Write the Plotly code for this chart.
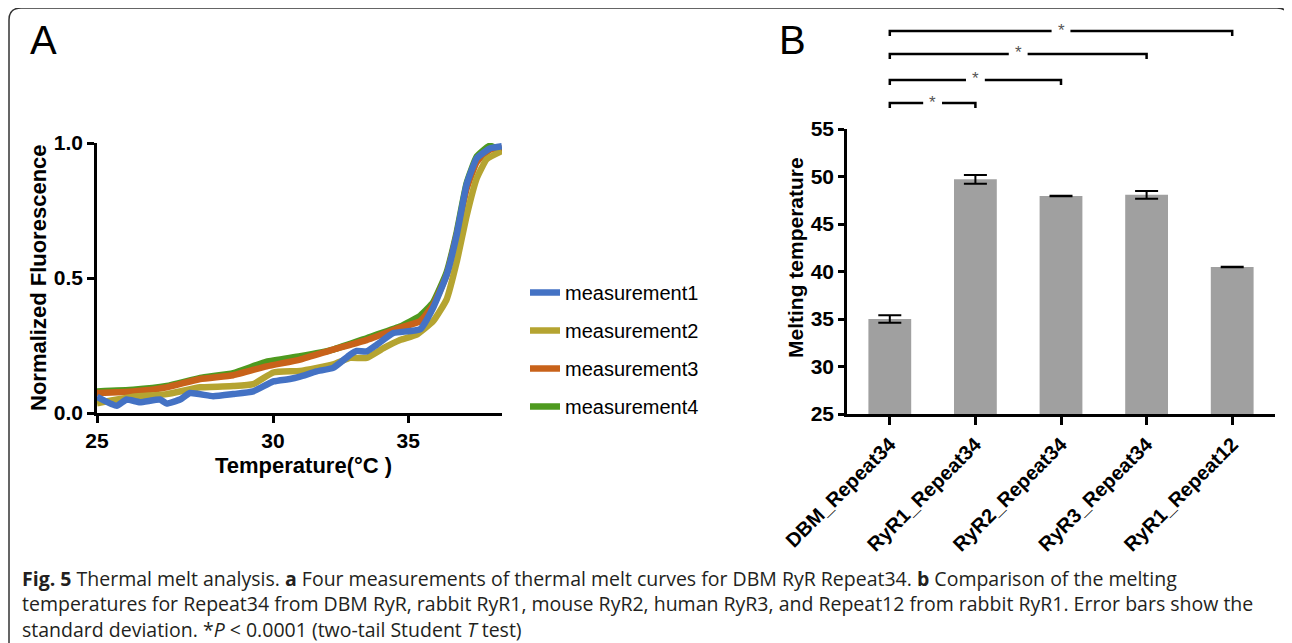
import plotly.graph_objects as go

# The page places the plot 8 px from the top-left corner (body margin), so the
# figure is 8 px smaller and every screen position is mapped with that offset.
SCREEN_W, SCREEN_H = 1292, 643
OFF = 8
W, H = SCREEN_W - OFF, SCREEN_H - OFF

# ---------------- Panel A data ----------------
temp_m1 = [25.0, 25.56, 25.84, 26.22, 26.79, 26.98, 27.36, 27.64, 28.30, 28.87, 29.44, 30.01, 30.48, 30.77,
           31.24, 31.71, 32.19, 32.38, 32.66, 32.95, 33.42, 34.18, 34.55, 34.93, 35.22, 35.50, 35.79, 36.16, 36.50]
fluor_m1 = [0.06, 0.027, 0.05, 0.04, 0.05, 0.035, 0.05, 0.074, 0.062, 0.07, 0.08, 0.117, 0.126, 0.135,
            0.154, 0.167, 0.216, 0.23, 0.228, 0.253, 0.296, 0.31, 0.39, 0.51, 0.66, 0.846, 0.944, 0.98, 0.988]

temp_m2 = [25.0, 26.03, 26.98, 27.93, 28.87, 29.44, 30.01, 30.77, 31.71, 32.19, 32.66, 33.14, 33.61, 34.08,
           34.55, 34.93, 35.22, 35.50, 35.79, 36.07, 36.50]
fluor_m2 = [0.036, 0.06, 0.07, 0.095, 0.10, 0.107, 0.15, 0.156, 0.18, 0.204, 0.204, 0.24, 0.27, 0.29,
            0.34, 0.42, 0.56, 0.73, 0.87, 0.94, 0.97]

temp_m3 = [25.0, 26.03, 26.98, 27.93, 28.87, 29.82, 30.77, 31.71, 32.66, 33.61, 34.18, 34.55, 34.93, 35.22,
           35.50, 35.79, 36.16, 36.50]
fluor_m3 = [0.074, 0.08, 0.095, 0.126, 0.14, 0.173, 0.198, 0.235, 0.27, 0.316, 0.34, 0.40, 0.51, 0.66,
            0.83, 0.93, 0.975, 0.98]

temp_m4 = [25.0, 26.03, 26.98, 27.93, 28.87, 29.82, 30.77, 31.71, 32.66, 33.61, 34.18, 34.55, 34.93, 35.22,
           35.50, 35.79, 36.16, 36.50]
fluor_m4 = [0.08, 0.086, 0.10, 0.13, 0.148, 0.19, 0.21, 0.235, 0.277, 0.32, 0.36, 0.41, 0.52, 0.67,
            0.85, 0.95, 0.99, 0.97]

series_names = ["measurement1", "measurement2", "measurement3", "measurement4"]
series_colors = ["#4472c4", "#b5a431", "#c8621a", "#4e9a1f"]

a_tick_vals = [25, 30, 33.84]
a_tick_text = ["25", "30", "35"]

# ---------------- Panel B data ----------------
constructs = ["DBM_Repeat34", "RyR1_Repeat34", "RyR2_Repeat34", "RyR3_Repeat34", "RyR1_Repeat12"]
melt_mean = [35.0, 49.7, 47.95, 48.07, 40.47]
melt_sd = [0.39, 0.47, 0.03, 0.4, 0.03]
comparisons = [(0, 1), (0, 2), (0, 3), (0, 4)]

caption_lines = [
    "<b>Fig. 5</b> Thermal melt analysis. <b>a</b> Four measurements of thermal melt curves for DBM RyR Repeat34. <b>b</b> Comparison of the melting",
    "temperatures for Repeat34 from DBM RyR, rabbit RyR1, mouse RyR2, human RyR3, and Repeat12 from rabbit RyR1. Error bars show the",
    "standard deviation. *<i>P</i> &lt; 0.0001 (two-tail Student <i>T</i> test)",
]


def px(x):
    return (x - OFF) / W


def py(y):
    return 1 - (y - OFF) / H


FONT = "Liberation Sans, Arial"

fig = go.Figure()
series = [(temp_m1, fluor_m1), (temp_m2, fluor_m2), (temp_m3, fluor_m3), (temp_m4, fluor_m4)]
for i in [3, 2, 1, 0]:
    t, f = series[i]
    fig.add_trace(go.Scatter(
        x=t, y=f, mode="lines", name=series_names[i],
        line=dict(color=series_colors[i], width=6.5, shape="spline", smoothing=0.4),
        legendgroup=series_names[i], legendrank=i + 1, xaxis="x", yaxis="y",
    ))

fig.add_trace(go.Bar(
    x=constructs, y=melt_mean, width=0.5, marker=dict(color="#a0a0a0", line=dict(width=0)),
    error_y=dict(type="data", array=melt_sd, visible=True, color="black", thickness=2, width=11.5),
    xaxis="x2", yaxis="y2", showlegend=False,
))

tick_font = dict(family=FONT, size=21, color="black", weight="bold")

common = dict(showline=True, linecolor="black", linewidth=2.5, ticks="outside", tickwidth=2.5,
              tickcolor="black", showgrid=False, zeroline=False, automargin=False)

fig.update_layout(
    template="none",
    width=W, height=H, margin=dict(l=0, r=0, t=0, b=0, pad=0), autosize=False,
    paper_bgcolor="white", plot_bgcolor="white",
    showlegend=True,
    legend=dict(x=px(525), y=py(273), xanchor="left", yanchor="top",
                font=dict(family=FONT, size=20, color="black"),
                traceorder="grouped", tracegroupgap=9, bgcolor="rgba(0,0,0,0)", borderwidth=0),
    xaxis=dict(domain=[px(97), px(502)], range=[25, 36.506], tickvals=a_tick_vals, ticktext=a_tick_text,
               ticklen=7, tickfont=tick_font, anchor="y", **common),
    yaxis=dict(domain=[py(413), py(143)], range=[0, 1.0], tickvals=[0, 0.5, 1.0], ticktext=["0.0", "0.5", "1.0"],
               ticklen=7, tickfont=tick_font, anchor="x", **common),
    xaxis2=dict(domain=[px(847), px(1275)], range=[-0.5, 4.5], type="category",
                ticklen=8, tickangle=-45,
                tickfont=dict(family=FONT, size=20, color="black", weight="bold"), anchor="y2", **common),
    yaxis2=dict(domain=[py(414), py(129)], range=[25, 55], dtick=5, tick0=25,
                ticklen=6, tickfont=dict(family=FONT, size=21, color="black", weight="bold"),
                anchor="x2", **common),
)

shapes = []
annotations = []

# axis titles
annotations.append(dict(x=px(38), y=py(278), xref="paper", yref="paper", text="<b>Normalized Fluorescence</b>",
                        textangle=-90, showarrow=False, xanchor="center", yanchor="middle",
                        font=dict(family=FONT, size=22, color="black")))
annotations.append(dict(x=px(303), y=py(465), xref="paper", yref="paper", text="<b>Temperature(°C )</b>",
                        showarrow=False, xanchor="center", yanchor="middle",
                        font=dict(family=FONT, size=22, color="black")))
annotations.append(dict(x=px(796), y=py(258), xref="paper", yref="paper", text="<b>Melting temperature</b>",
                        textangle=-90, showarrow=False, xanchor="center", yanchor="middle",
                        font=dict(family=FONT, size=21, color="black")))

# significance brackets
bracket_y = [103, 80, 54, 31]
gap = 0.11
for (a, b), yb in zip(comparisons, bracket_y):
    mid = (a + b) / 2
    yl = py(yb)
    ytk = py(yb + 5)
    shapes.append(dict(type="path", xref="x2", yref="paper",
                       path=f"M {a},{ytk} L {a},{yl} L {mid - gap},{yl}",
                       line=dict(color="black", width=2.5)))
    shapes.append(dict(type="path", xref="x2", yref="paper",
                       path=f"M {mid + gap},{yl} L {b},{yl} L {b},{ytk}",
                       line=dict(color="black", width=2.5)))
    annotations.append(dict(x=mid, y=py(yb - 1), xref="x2", yref="paper", text="*", showarrow=False,
                            font=dict(family=FONT, size=17, color="#555555"),
                            xanchor="center", yanchor="middle"))

# frame
x0, x1, y0, r = 9, 1289, 8, 12
ybot = 700
frame_path = (f"M {px(x0)},{py(ybot)} L {px(x0)},{py(y0 + r)} Q {px(x0)},{py(y0)} {px(x0 + r)},{py(y0)} "
              f"L {px(x1 - r)},{py(y0)} Q {px(x1)},{py(y0)} {px(x1)},{py(y0 + r)} L {px(x1)},{py(ybot)}")
shapes.append(dict(type="path", xref="paper", yref="paper", path=frame_path,
                   line=dict(color="#333333", width=1.5)))

# panel letters
annotations.append(dict(x=px(28), y=py(40), xref="paper", yref="paper", text="A", showarrow=False,
                        font=dict(family=FONT, size=40, color="black"),
                        xanchor="left", yanchor="middle"))
annotations.append(dict(x=px(777), y=py(40), xref="paper", yref="paper", text="B", showarrow=False,
                        font=dict(family=FONT, size=40, color="black"),
                        xanchor="left", yanchor="middle"))

# caption
for i, line in enumerate(caption_lines):
    annotations.append(dict(x=px(20), y=py(578 + i * 25.5), xref="paper", yref="paper", text=line,
                            showarrow=False, xanchor="left", yanchor="middle", align="left",
                            font=dict(family="Open Sans", size=19.5, color="#231f20")))

fig.update_layout(shapes=shapes, annotations=annotations)
fig.write_html("out.html")
